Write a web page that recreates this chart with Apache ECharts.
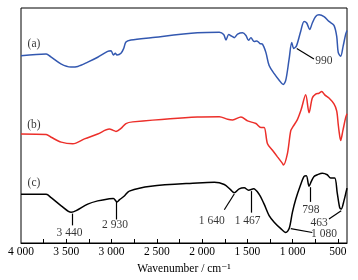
<!DOCTYPE html>
<html>
<head>
<meta charset="utf-8">
<script src="https://cdn.jsdelivr.net/npm/echarts@6/dist/echarts.min.js"></script>
<style>html,body{margin:0;background:#fff}#main{width:358px;height:280px}</style>
</head>
<body>
<div id="main"></div>
<script>
// curve (a)
var wnA = [4000, 3722, 3670, 3560, 3450, 3373, 3263, 3153, 3043, 3006, 2980, 2958, 2940, 2896, 2866, 2841, 2786, 2566, 2052, 1810, 1762, 1736, 1707, 1674, 1645, 1608, 1553, 1516, 1487, 1461, 1425, 1395, 1362, 1333, 1296, 1260, 1204, 1149, 1105, 1076, 1039, 1010, 988, 958, 911, 874, 845, 812, 783, 746, 709, 654, 599, 544, 514, 497, 470, 442, 415, 400];
var valA = [191.3, 193, 190, 183, 179.7, 180.3, 184.7, 189.7, 195.7, 196.3, 192, 193.7, 192, 193.7, 198.7, 205.3, 207.3, 209.7, 214.7, 215.3, 213, 207.3, 213, 211.3, 209.7, 213.3, 214.7, 212, 207, 209.7, 205.7, 206.3, 203.7, 203, 194.7, 181.3, 173, 166.3, 162, 166.3, 188, 204.7, 198.7, 201.3, 216.3, 226.3, 224.7, 218, 224.7, 231.3, 233, 231.3, 226.3, 222.3, 211.3, 194.7, 190.7, 201.3, 213, 217];
// curve (b)
var wnB = [4000, 3722, 3667, 3556, 3428, 3299, 3153, 3024, 2987, 2951, 2896, 2841, 2767, 2052, 1810, 1718, 1663, 1571, 1498, 1406, 1351, 1315, 1278, 1223, 1168, 1113, 1102, 1058, 1021, 995, 948, 907, 856, 819, 783, 746, 709, 679, 646, 599, 544, 514, 497, 489, 470, 445, 415, 400];
var valB = [111.3, 110.7, 108, 103, 101.3, 106.3, 111.3, 116.3, 115.3, 114, 117, 122, 123.7, 128.7, 129, 126.3, 125.7, 128.7, 124.7, 122, 118, 118, 101.3, 94.7, 88, 81.3, 79.7, 91.3, 114.7, 119, 126, 136, 151.3, 133, 148, 152, 153, 154.7, 151.3, 148, 142, 135, 121.3, 115, 104.7, 115, 128, 132];
// curve (c)
var wnC = [4000, 3722, 3667, 3556, 3446, 3391, 3263, 3153, 3024, 2980, 2940, 2914, 2859, 2804, 2566, 2052, 1865, 1755, 1689, 1645, 1590, 1535, 1487, 1432, 1370, 1315, 1260, 1204, 1131, 1076, 1039, 1003, 966, 918, 874, 849, 819, 794, 764, 728, 673, 618, 581, 536, 508, 481, 464, 434, 408, 400];
var valC = [49.7, 49.7, 46.3, 38, 31.3, 33, 39.7, 43, 45.3, 45.5, 42, 44, 48, 53, 58, 61.3, 62, 59.7, 54.7, 51.3, 55.3, 56.3, 54, 55.3, 49.7, 39.7, 28, 21.3, 14.7, 10.7, 14.7, 31.3, 44.7, 58, 68, 68.7, 58, 63, 68, 69.7, 71.3, 69.7, 66.3, 66.3, 51.3, 36.3, 34.7, 43, 53, 56];

var tickValues = [500, 750, 1000, 1250, 1500, 1750, 2000, 2250, 2500, 2750, 3000, 3250, 3500, 3750];
var labelValues = [500, 1000, 1500, 2000, 2500, 3000, 3500, 4000];

// annotation texts: [wavenumber, value, text]
var notes = [
  [3857, 203, '(a)'], [3857, 120.3, '(b)'], [3857, 61.3, '(c)'],
  [3464, 10, '3 440'], [2962, 18, '2 930'], [1894, 22, '1 640'], [1498, 22, '1 467'],
  [800, 33.7, '798'], [709, 20.3, '463'], [654, 9, '1 080'], [654, 186, '990']
];
// arrows: [fromWn, fromVal, toWn, toVal]
var arrows = [
  [3439, 30, 3439, 18], [2947, 42, 2947, 24], [1645, 50, 1755, 34], [1461, 53, 1461, 31],
  [805, 57, 805, 42], [464, 33, 599, 24.5], [1021, 14.7, 783, 10.7], [955, 198.7, 765, 188]
];

var FONT = '"Liberation Serif", "DejaVu Serif", serif';

function pairs(xs, ys) {
  return xs.map(function (x, i) { return [x, ys[i]]; });
}
function fmt(v) {
  if (v >= 1000) return Math.floor(v / 1000) + ' ' + String(v % 1000).padStart(3, '0');
  return String(v);
}

var chart = echarts.init(document.getElementById('main'));
var option = {
  animation: false,
  grid: { left: 21, right: 11, top: 8, bottom: 32, show: true, borderColor: '#000', borderWidth: 1 },
  xAxis: {
    type: 'value', min: 400, max: 4000, inverse: true,
    name: 'Wavenumber / cm\u207B\u00B9', nameLocation: 'middle', nameGap: 20,
    nameTextStyle: { color: '#000', fontFamily: FONT, fontSize: 11.5 },
    axisLine: { show: true, onZero: false, lineStyle: { color: '#000', width: 1 } },
    axisTick: { show: true, inside: true, length: 4, customValues: tickValues, lineStyle: { color: '#000' } },
    axisLabel: { customValues: labelValues, formatter: fmt, color: '#000', fontFamily: FONT, fontSize: 11.5, margin: 3 },
    splitLine: { show: false }
  },
  yAxis: { type: 'value', min: 0, max: 240, show: false },
  series: [
    { type: 'line', data: pairs(wnA, valA), smooth: 0.3, symbol: 'none', lineStyle: { color: '#3358b0', width: 1.5 } },
    { type: 'line', data: pairs(wnB, valB), smooth: 0.3, symbol: 'none', lineStyle: { color: '#ec2f2a', width: 1.5 } },
    { type: 'line', data: pairs(wnC, valC), smooth: 0.3, symbol: 'none', lineStyle: { color: '#000', width: 1.5 } },
    {
      type: 'scatter', symbolSize: 0, data: notes, silent: true,
      label: { show: true, position: 'inside', formatter: function (p) { return p.value[2]; }, color: '#000', fontFamily: FONT, fontSize: 11.5 },
      markLine: {
        silent: true, symbol: ['none', 'arrow'], symbolSize: [0, 8],
        lineStyle: { color: '#000', width: 1.2, type: 'solid' },
        label: { show: false },
        data: arrows.map(function (a) { return [{ coord: [a[0], a[1]] }, { coord: [a[2], a[3]] }]; })
      }
    }
  ]
};
chart.setOption(option);
</script>
</body>
</html>
